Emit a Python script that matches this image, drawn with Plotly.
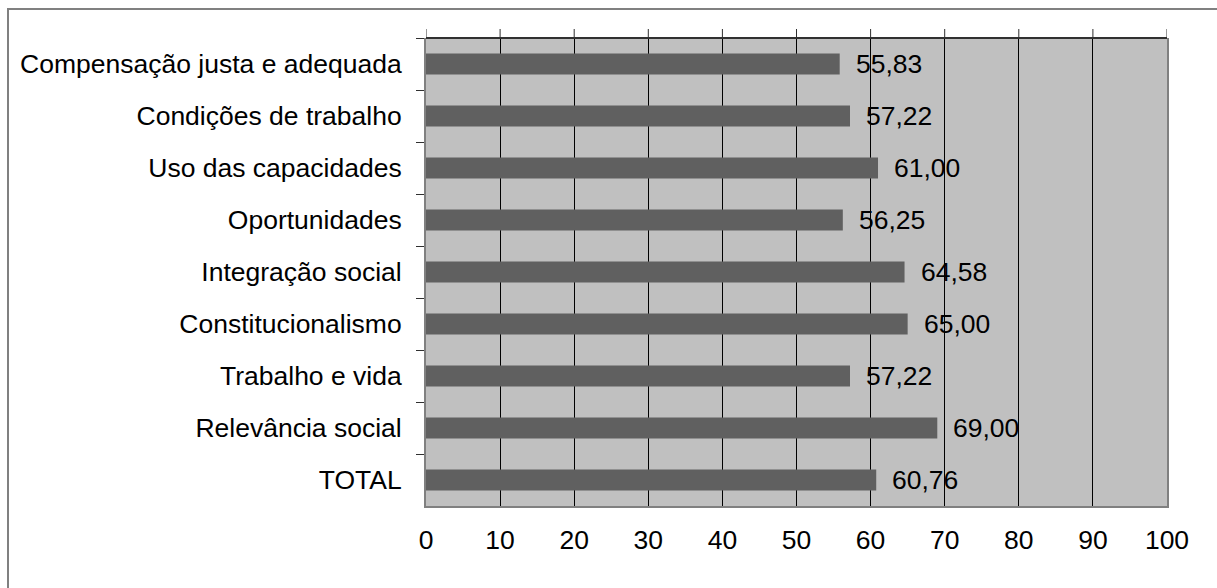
import plotly.graph_objects as go

# Índices por dimensão (escala 0-100)
categorias = [
    "Compensação justa e adequada",
    "Condições de trabalho",
    "Uso das capacidades",
    "Oportunidades",
    "Integração social",
    "Constitucionalismo",
    "Trabalho e vida",
    "Relevância social",
    "TOTAL",
]
valores = [55.83, 57.22, 61.00, 56.25, 64.58, 65.00, 57.22, 69.00, 60.76]
ticks_x = [0, 10, 20, 30, 40, 50, 60, 70, 80, 90, 100]

W, H = 1217, 588
L, R, T, B = 426, 50, 38, 82
FONT = dict(family="Liberation Sans, Arial, sans-serif", size=26.5, color="#000000")

fig = go.Figure()
fig.add_trace(go.Bar(
    y=categorias,
    x=valores,
    orientation="h",
    marker=dict(color="#606060", line=dict(width=0)),
    width=0.4,
    hoverinfo="skip",
))

# Rótulos de valor com vírgula decimal
for c, v in zip(categorias, valores):
    fig.add_annotation(
        x=v, y=c, xref="x", yref="y",
        text=f"{v:.2f}".replace(".", ","),
        showarrow=False, xanchor="left", yanchor="middle",
        xshift=14, font=FONT,
    )

pw, ph = W - L - R, H - T - B

# Marcas de escala na borda superior da área de plotagem
for t in ticks_x:
    fig.add_shape(
        type="line", xref="x", yref="paper",
        x0=t, x1=t, y0=1, y1=1 + 9 / ph,
        line=dict(color="#303030", width=1),
    )

# Borda superior mais escura
fig.add_shape(
    type="line", xref="paper", yref="paper",
    x0=0, x1=1, y0=1, y1=1,
    line=dict(color="#303030", width=2),
)

# Moldura externa do gráfico
fig.add_shape(
    type="rect", xref="paper", yref="paper",
    x0=(8 - L) / pw, x1=(1230 - L) / pw,
    y0=1 - (600 - T) / ph, y1=1 + (T - 9) / ph,
    line=dict(color="#808080", width=2), fillcolor="rgba(0,0,0,0)",
    layer="below",
)

fig.update_layout(
    width=W, height=H,
    margin=dict(l=L, r=R, t=T, b=B, pad=0),
    paper_bgcolor="#FFFFFF",
    plot_bgcolor="#C0C0C0",
    showlegend=False,
    font=FONT,
    xaxis=dict(
        range=[0, 100], tickvals=ticks_x, ticktext=[str(t) for t in ticks_x],
        showgrid=True, gridcolor="#000000", gridwidth=1,
        zeroline=False, showline=True, linecolor="#808080", linewidth=2,
        ticks="", ticklabelstandoff=9, tickfont=FONT, fixedrange=True,
    ),
    yaxis=dict(
        categoryorder="array", categoryarray=categorias, autorange="reversed",
        showgrid=False, zeroline=False, showline=True, mirror=True,
        linecolor="#808080", linewidth=2, ticks="outside", ticklen=8,
        tickcolor="#303030", tickwidth=1, tickson="boundaries",
        ticklabelstandoff=17, tickfont=FONT, fixedrange=True,
    ),
)

fig.write_html("out.html")
